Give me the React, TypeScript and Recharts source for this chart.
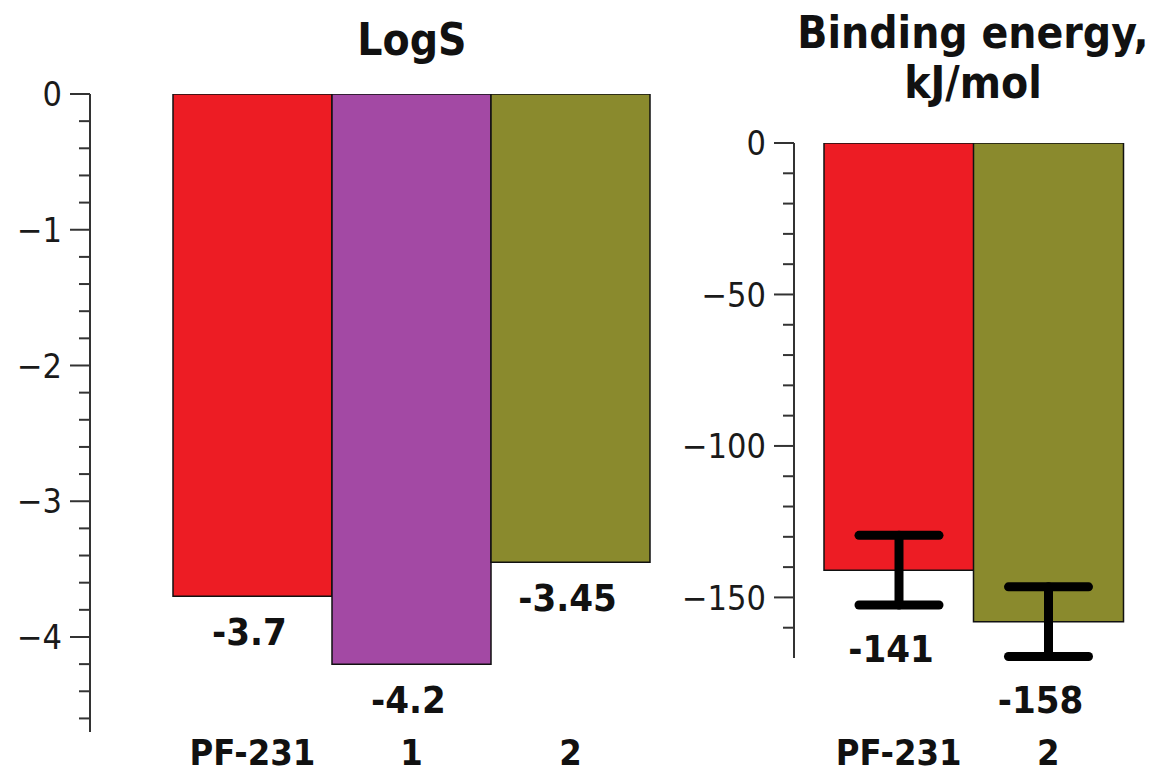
import { BarChart, Bar, XAxis, YAxis, Cell, LabelList, ErrorBar } from 'recharts'

const logsNames = ['PF-231', '1', '2']
const logsValues = [-3.7, -4.2, -3.45]
const logsColors = ['#ED1C24', '#A349A4', '#8A8A2D']
const logsTicks = Array.from({ length: 24 }, (_, i) => Math.round(-i * 2) / 10)
const logsMajor = [0, -1, -2, -3, -4]

const energyNames = ['PF-231', '2']
const energyValues = [-141, -158]
const energyErrors = [11.5, 11.5]
const energyColors = ['#ED1C24', '#8A8A2D']
const energyTicks = Array.from({ length: 17 }, (_, i) => -i * 10)
const energyMajor = [0, -50, -100, -150]

const logsData = logsNames.map((name, i) => ({ name, value: logsValues[i] }))
const energyData = energyNames.map((name, i) => ({ name, value: energyValues[i], err: energyErrors[i] }))

const FONT = "'DejaVu Sans Condensed', 'DejaVu Sans', sans-serif"
const AXIS = '#333'

function YTick({ x, y, payload, major }: any) {
  const v = payload.value
  const isMajor = major.includes(v)
  return (
    <g>
      <line x1={isMajor ? x - 20 : x - 11} x2={x} y1={y} y2={y} stroke={AXIS} strokeWidth={2} />
      {isMajor && (
        <text x={x - 28} y={y} dy="0.36em" textAnchor="end" fontFamily={FONT} fontSize={34} fill="#1a1a1a">
          {v < 0 ? '\u2212' + Math.abs(v) : String(v)}
        </text>
      )}
    </g>
  )
}

function XTick({ x, y, payload, dy }: any) {
  return (
    <text x={x} y={y + dy} dy="0.36em" textAnchor="middle" fontFamily={FONT} fontWeight="bold" fontSize={36} fill="#111">
      {payload.value}
    </text>
  )
}

function valueLabel(offset: number, dx: number) {
  return (props: any) => {
    const { x, y, width, height, value } = props
    const bottom = Math.max(y, y + height)
    return (
      <text x={x + width / 2 + dx} y={bottom + offset} dy="0.36em" textAnchor="middle" fontFamily={FONT} fontWeight="bold" fontSize={38} fill="#111">
        {String(value)}
      </text>
    )
  }
}

const titleStyle = {
  position: 'absolute' as const,
  fontFamily: FONT,
  fontWeight: 'bold' as const,
  fontSize: 44,
  lineHeight: '50px',
  textAlign: 'center' as const,
  color: '#111',
}

export default function App() {
  return (
    <div style={{ position: 'absolute', left: 0, top: 0, width: 1158, height: 775, background: '#fff' }}>
      <div style={{ ...titleStyle, left: 262, width: 300, top: 15 }}>LogS</div>
      <div style={{ ...titleStyle, left: 773, width: 400, top: 8 }}>
        Binding energy,
        <br />
        kJ/mol
      </div>

      <div style={{ position: 'absolute', left: 0, top: 0 }}>
        <BarChart width={660} height={775} data={logsData} margin={{ top: 94, right: 10, bottom: 0, left: 0 }} barCategoryGap={0} barGap={0}>
          <XAxis dataKey="name" height={43} axisLine={false} tickLine={false} tickSize={0} tickMargin={0} padding={{ left: 83, right: 0 }} interval={0} tick={(p: any) => <XTick {...p} dy={20} />} />
          <YAxis type="number" domain={[-4.7, 0]} allowDataOverflow ticks={logsTicks} interval={0} width={90} tickSize={0} tickMargin={0} tickLine={false} axisLine={{ stroke: AXIS, strokeWidth: 2 }} tick={(p: any) => <YTick {...p} major={logsMajor} />} />
          <Bar dataKey="value" stroke="#111" strokeWidth={1.5} isAnimationActive={false}>
            {logsColors.map((c, i) => (
              <Cell key={i} fill={c} />
            ))}
            <LabelList dataKey="value" content={valueLabel(35, -3)} />
          </Bar>
        </BarChart>
      </div>

      <div style={{ position: 'absolute', left: 660, top: 0 }}>
        <BarChart width={498} height={775} data={energyData} margin={{ top: 143, right: 35, bottom: 0, left: 0 }} barCategoryGap={0} barGap={0}>
          <XAxis dataKey="name" height={117} axisLine={false} tickLine={false} tickSize={0} tickMargin={0} padding={{ left: 30, right: 0 }} interval={0} tick={(p: any) => <XTick {...p} dy={94} />} />
          <YAxis type="number" domain={[-170, 0]} allowDataOverflow ticks={energyTicks} interval={0} width={134} tickSize={0} tickMargin={0} tickLine={false} axisLine={{ stroke: AXIS, strokeWidth: 2 }} tick={(p: any) => <YTick {...p} major={energyMajor} />} />
          <Bar dataKey="value" stroke="#111" strokeWidth={1.5} isAnimationActive={false}>
            {energyColors.map((c, i) => (
              <Cell key={i} fill={c} />
            ))}
            <ErrorBar dataKey="err" width={40} stroke="#000" strokeWidth={9} strokeLinecap="round" isAnimationActive={false} />
            <LabelList dataKey="value" content={valueLabel(78, -8)} />
          </Bar>
        </BarChart>
      </div>
    </div>
  )
}
